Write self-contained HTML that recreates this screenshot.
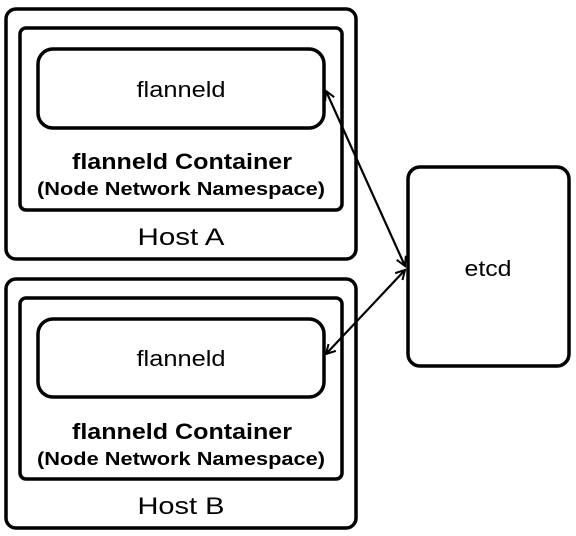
<!DOCTYPE html>
<html><head><style>
html,body{margin:0;padding:0;background:#fff;width:576px;height:536px;overflow:hidden}
svg text{font-family:"Liberation Sans","Noto Sans CJK KR",sans-serif;fill:#000}
</style></head><body>
<svg width="576" height="536" xmlns="http://www.w3.org/2000/svg">
<defs>
<marker id="a" markerWidth="12" markerHeight="12" refX="10" refY="6" orient="auto-start-reverse" markerUnits="userSpaceOnUse">
<path d="M1,1 L10,6 L1,11" fill="none" stroke="#000" stroke-width="2"/>
</marker>
</defs>
<g fill="none" stroke="#000" stroke-width="3.5">
<rect x="6" y="9" width="350" height="250" rx="10"/>
<rect x="20" y="28" width="322" height="182" rx="6"/>
<rect x="38" y="49" width="286" height="79" rx="15"/>
<rect x="6" y="279" width="350" height="249" rx="10"/>
<rect x="20" y="298" width="322" height="181" rx="6"/>
<rect x="38" y="319" width="286" height="78" rx="15"/>
<rect x="408" y="167" width="161" height="199" rx="12"/>
</g>
<g stroke="#000" stroke-width="2.2" fill="none">
<line x1="326" y1="91" x2="405" y2="266" marker-start="url(#a)" marker-end="url(#a)"/>
<line x1="405" y1="270" x2="326" y2="354" marker-start="url(#a)" marker-end="url(#a)"/>
</g>
<g text-anchor="middle" lengthAdjust="spacingAndGlyphs">
<text x="181" y="97" font-size="22" textLength="89" lengthAdjust="spacingAndGlyphs">flanneld</text>
<text x="182" y="169" font-size="22" font-weight="bold" textLength="220" lengthAdjust="spacingAndGlyphs">flanneld Container</text>
<text x="181" y="195" font-size="18" font-weight="bold" textLength="288" lengthAdjust="spacingAndGlyphs">(Node Network Namespace)</text>
<text x="181" y="245" font-size="24" textLength="87" lengthAdjust="spacingAndGlyphs">Host A</text>
<text x="181" y="366" font-size="22" textLength="89" lengthAdjust="spacingAndGlyphs">flanneld</text>
<text x="182" y="439" font-size="22" font-weight="bold" textLength="220" lengthAdjust="spacingAndGlyphs">flanneld Container</text>
<text x="181" y="465" font-size="18" font-weight="bold" textLength="288" lengthAdjust="spacingAndGlyphs">(Node Network Namespace)</text>
<text x="181" y="514" font-size="24" textLength="87" lengthAdjust="spacingAndGlyphs">Host B</text>
<text x="488" y="276" font-size="22" textLength="47" lengthAdjust="spacingAndGlyphs">etcd</text>
</g>
</svg>
</body></html>
